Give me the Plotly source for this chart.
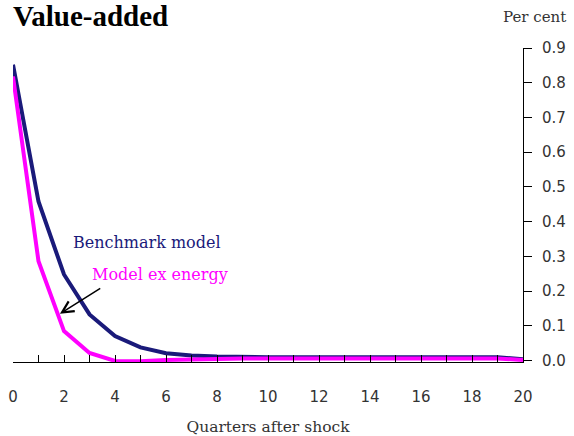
import plotly.graph_objects as go

quarters = list(range(21))
benchmark = [0.852, 0.458, 0.248, 0.133, 0.071, 0.038, 0.021, 0.015, 0.012, 0.010, 0.010,
             0.010, 0.010, 0.010, 0.010, 0.010, 0.010, 0.010, 0.010, 0.010, 0.004]
ex_energy = [0.818, 0.286, 0.085, 0.022, -0.001, -0.002, 0.002, 0.004, 0.005, 0.006, 0.006,
             0.006, 0.006, 0.006, 0.006, 0.006, 0.006, 0.006, 0.006, 0.006, 0.002]
x_ticks = list(range(0, 21, 2))
y_ticks = [round(i * 0.1, 1) for i in range(10)]

FONT = "DejaVu Serif"
TICK_FONT = "DejaVu Sans"
TITLE_FONT = "Liberation Serif"
NAVY = "#1a1a7a"
PINK = "#ff00ff"
TXT = "#333333"

fig = go.Figure()
fig.add_trace(go.Scatter(x=quarters, y=benchmark, mode="lines",
                         line=dict(color=NAVY, width=4), showlegend=False))
fig.add_trace(go.Scatter(x=quarters, y=ex_energy, mode="lines",
                         line=dict(color=PINK, width=4), showlegend=False))

fig.update_layout(
    width=574, height=436,
    margin=dict(l=13, r=51, t=48, b=74, autoexpand=False),
    paper_bgcolor="white", plot_bgcolor="white",
    font=dict(family=FONT, size=15, color=TXT),
    xaxis=dict(range=[0, 20], tickvals=list(range(21)),
               ticktext=[str(v) if v in x_ticks else "" for v in range(21)],
               ticks="inside", ticklen=7, tickcolor="black",
               showline=True, linecolor="black", linewidth=1,
               showgrid=False, zeroline=False, automargin=False,
               ticklabelstandoff=21,
               tickfont=dict(family=TICK_FONT, size=15, color=TXT),
               title=dict(text="Quarters after shock", font=dict(family=FONT, size=15.5, color=TXT),
                          standoff=17)),
    yaxis=dict(range=[-0.004, 0.9], side="right", tickvals=y_ticks,
               ticktext=[f"{v:.1f}" for v in y_ticks],
               ticks="outside", ticklen=8, tickcolor="black",
               showline=True, linecolor="black", linewidth=1,
               showgrid=False, zeroline=False, automargin=False,
               ticklabelstandoff=7,
               tickfont=dict(family=TICK_FONT, size=15, color=TXT)),
    annotations=[
        dict(text="<b>Value-added</b>", xref="paper", yref="paper", x=-0.004, y=1.158,
             xanchor="left", yanchor="top", showarrow=False,
             font=dict(family=TITLE_FONT, size=29, color="black")),
        dict(text="Per cent", xref="paper", yref="paper", x=1.088, y=1.099,
             xanchor="right", yanchor="middle", showarrow=False,
             font=dict(family=FONT, size=15, color=TXT)),
        dict(text="Benchmark model", x=5.24, y=0.340, xanchor="center", yanchor="middle",
             showarrow=False, font=dict(family=FONT, size=16, color=NAVY)),
        dict(text="Model ex energy", x=5.78, y=0.249, xanchor="center", yanchor="middle",
             showarrow=False, font=dict(family=FONT, size=16, color=PINK)),
        dict(x=1.84, y=0.135, ax=3.48, ay=0.211, xref="x", yref="y", axref="x", ayref="y",
             text="", showarrow=True, arrowhead=5, arrowsize=1.5, arrowwidth=1.5,
             arrowcolor="black"),
    ],
)

fig.write_html("out.html", config={"displayModeBar": False},
               post_script="document.body.style.margin='0';")
